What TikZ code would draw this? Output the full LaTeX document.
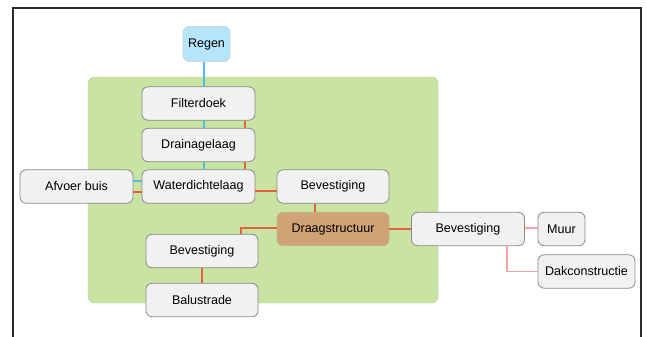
\documentclass[tikz,border=0pt]{standalone}
\usepackage{fontspec}
\setmainfont{Liberation Sans}
\usetikzlibrary{positioning,calc}
\definecolor{greenbg}{HTML}{C8E3A2}
\definecolor{greenedge}{HTML}{B5CC98}
\definecolor{boxfill}{HTML}{F1F1F1}
\definecolor{boxedge}{HTML}{8A8A8A}
\definecolor{rainfill}{HTML}{B4E5FB}
\definecolor{rainedge}{HTML}{D3D3D3}
\definecolor{woodfill}{HTML}{D1A276}
\definecolor{woodedge}{HTML}{C2B488}
\definecolor{waterline}{HTML}{4EC0E6}
\definecolor{forceline}{HTML}{E5603F}
\definecolor{softline}{HTML}{F4A3A3}
\definecolor{framecol}{HTML}{2A2A2A}

\begin{document}
\begin{tikzpicture}[x=0.03cm, y=-0.03cm,
    layer/.style={draw=boxedge, fill=boxfill, rounded corners=0.18cm, line width=0.7pt,
      minimum width=3.39cm, minimum height=1cm, inner sep=0pt,
      font=\fontsize{10.7}{13}\selectfont},
    rain/.style={layer, draw=rainedge, fill=rainfill, minimum width=1.41cm, minimum height=1.05cm},
    wood/.style={layer, draw=woodedge, fill=woodfill},
    wet/.style={draw=waterline, line width=1pt},
    load/.style={draw=forceline, line width=1pt},
    soft/.style={draw=softline, line width=1pt}]
  \useasboundingbox (0,0) rectangle (647,336);
  \draw[framecol, line width=1.3pt] (13,340) -- (13,8) -- (641,8) -- (641,340);

  % green zone
  \draw[greenedge, fill=greenbg, rounded corners=0.2cm] (88,77) rectangle (438,303);

  \node[rain] (regen) at (206.5,44) {Regen};
  \node[layer] (filter) at (198.5,103.5) {Filterdoek};
  \node[layer] (drain) at (198.5,145) {Drainagelaag};
  \node[layer] (water) at (198.5,186.5) {Waterdichtelaag};
  \node[layer] (afvoer) at (76.5,186.5) {Afvoer buis};
  \node[layer, minimum width=3.36cm] (bevtop) at (333,186.5) {Bevestiging};
  \node[wood, minimum width=3.36cm] (draag) at (333,229) {Draagstructuur};
  \node[layer, minimum width=3.36cm] (bevleft) at (202,251) {Bevestiging};
  \node[layer, minimum width=3.36cm] (balu) at (202,300) {Balustrade};
  \node[layer] (bevright) at (468,229) {Bevestiging};
  \node[layer, minimum width=1.41cm] (muur) at (561.5,229) {Muur};
  \node[layer, minimum width=2.91cm] (dak) at (586.5,271.5) {Dakconstructie};

  % water path
  \draw[wet] ($(regen.south)+(-2.5,0)$) -- ($(filter.north)+(5.5,0)$);
  \draw[wet] ($(filter.south)+(5.5,0)$) -- ($(drain.north)+(5.5,0)$);
  \draw[wet] ($(drain.south)+(5.5,0)$) -- ($(water.north)+(5.5,0)$);
  \draw[wet] ($(afvoer.east)+(0,-5.5)$) -- ($(water.west)+(0,-5.5)$);

  % load path
  \draw[load] ($(filter.south)+(46.5,0)$) -- ($(drain.north)+(46.5,0)$);
  \draw[load] ($(drain.south)+(46.5,0)$) -- ($(water.north)+(46.5,0)$);
  \draw[load] ($(afvoer.east)+(0,5.5)$) -- ($(water.west)+(0,5.5)$);
  \draw[load] ($(water.east)+(0,4.5)$) -- ($(bevtop.west)+(0,4.5)$);
  \draw[load] ($(bevtop.south)+(-18,0)$) -- ($(draag.north)+(-18,0)$);
  \draw[load] ($(draag.west)+(0,-1)$) -| ($(bevleft.north)+(39,0)$);
  \draw[load] (bevleft.south) -- (balu.north);
  \draw[load] (draag.east) -- (bevright.west);

  \draw[soft] ($(bevright.east)+(0,-1)$) -- ($(muur.west)+(0,-1)$);
  \draw[soft] ($(bevright.south)+(39,0)$) |- (dak.west);
\end{tikzpicture}
\end{document}
